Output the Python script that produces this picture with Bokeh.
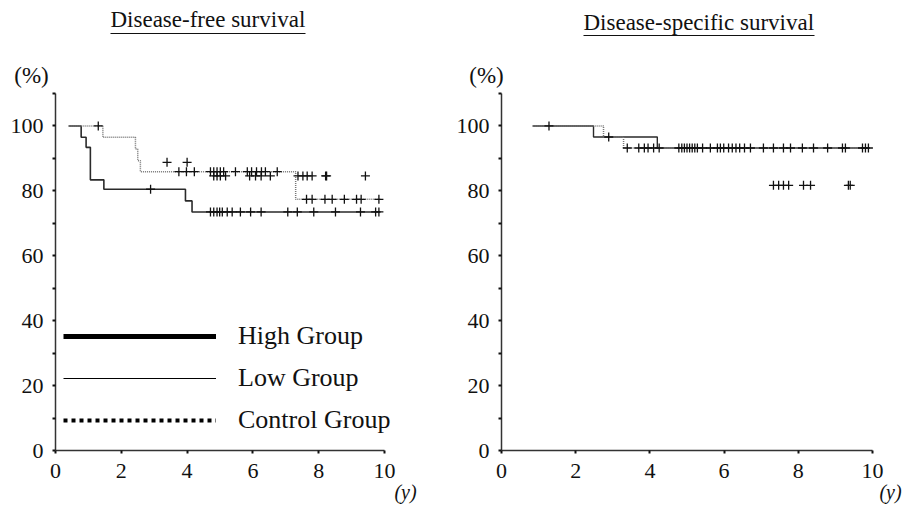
import numpy as np
from bokeh.plotting import figure
from bokeh.models import Range1d, FixedTicker, Label, Legend, LegendItem, Arrow
from bokeh.layouts import row
from bokeh.embed import file_html
from bokeh.resources import INLINE

FONT = "Liberation Serif"

# ---------------- Data: Disease-free survival (left) ----------------
dfs_low_t = [0.40, 0.78, 0.93, 1.06, 1.47, 3.95, 4.15, 9.88]
dfs_low_s = [100, 96.5, 93.4, 83.4, 80.5, 76.9, 73.5, 73.5]
dfs_low_cens = [2.89, 4.71, 4.81, 4.91, 4.99, 5.07, 5.22, 5.37, 5.62, 5.93,
                6.25, 7.06, 7.35, 7.85, 8.51, 9.27, 9.73, 9.83]

dfs_ctrl_t = [0.40, 1.44, 2.43, 2.50, 2.58, 7.30, 9.88]
dfs_ctrl_s = [100, 96.5, 92.9, 89.3, 85.9, 77.4, 77.4]
dfs_ctrl_cens = [1.30, 3.75, 3.98, 4.22, 4.71, 4.81, 4.91, 5.01, 5.11, 5.47,
                 5.83, 5.96, 6.11, 6.26, 6.38, 6.74, 7.63, 7.80, 8.19, 8.41,
                 8.78, 9.15, 9.29, 9.83]

dfs_high_cens_t = [3.39, 4.00, 4.81, 4.91, 5.01, 5.17, 5.90, 6.08, 6.25, 6.53,
                   7.37, 7.52, 7.65, 7.80, 8.21, 8.24, 9.42]
dfs_high_cens_s = [88.8, 88.8, 84.6, 84.6, 84.6, 84.6, 84.6, 84.6, 84.6, 84.6,
                   84.6, 84.6, 84.6, 84.6, 84.6, 84.6, 84.6]

# ---------------- Data: Disease-specific survival (right) ----------------
dss_a_t = [0.84, 2.48, 4.20, 9.90]
dss_a_s = [100, 96.6, 93.2, 93.2]
dss_a_cens = [1.28, 2.89, 4.25, 4.78, 4.86, 4.93, 5.00, 5.07, 5.14, 5.21, 5.28,
              5.42, 5.63, 5.82, 5.90, 5.99, 6.12, 6.22, 6.32, 6.42, 6.55, 6.71,
              7.06, 7.33, 7.60, 7.79, 8.11, 8.41, 8.79, 9.19, 9.27, 9.73, 9.81, 9.89]

dss_b_t = [0.84, 2.75, 3.29, 9.90]
dss_b_s = [100, 96.6, 93.2, 93.2]
dss_b_cens = [3.39, 3.70, 3.85, 3.95, 4.10]

dss_c_cens_t = [7.33, 7.47, 7.60, 7.74, 8.14, 8.33, 9.35, 9.40]
dss_c_cens_s = [81.7, 81.7, 81.7, 81.7, 81.7, 81.7, 81.7, 81.7]

x_ticks = [0, 2, 4, 6, 8, 10]
y_ticks = [0, 20, 40, 60, 80, 100]
y_minor = [10, 30, 50, 70, 90, 110]

legend_labels = ["High Group", "Low Group", "Control Group"]
titles = ["Disease-free survival", "Disease-specific survival"]
unit_y = "(%)"
unit_x = "(y)"

# ---------------- Layout constants (pixels) ----------------
H = 504            # canvas height
Y0 = 450           # pixel row of survival 0 %
KY = 357 / 110.0   # pixels per percent
X0 = 55            # pixel column of year 0 inside each canvas


def make_fig(width, kx):
    p = figure(frame_width=width, frame_height=H,
               x_range=Range1d(-X0 / kx, (width - X0) / kx),
               y_range=Range1d(-(H - Y0) / KY, Y0 / KY),
               output_backend="svg", toolbar_location=None, title=None,
               min_border=0)
    p.xgrid.visible = False
    p.ygrid.visible = False
    p.outline_line_color = None
    p.background_fill_color = "white"
    p.border_fill_color = "white"
    p.xaxis.ticker = FixedTicker(ticks=x_ticks, minor_ticks=[])
    p.yaxis.ticker = FixedTicker(ticks=y_ticks, minor_ticks=y_minor)
    p.xaxis.fixed_location = 0
    p.yaxis.fixed_location = 0
    p.xaxis.bounds = (0, 10)
    p.yaxis.bounds = (0, 110)
    for ax in (p.xaxis, p.yaxis):
        ax.axis_line_color = "#333333"
        ax.axis_line_width = 1.5
        ax.major_tick_in = 0
        ax.major_tick_out = 3
        ax.major_tick_line_width = 2
        ax.major_tick_line_color = "#111111"
        ax.minor_tick_in = 0
        ax.minor_tick_out = 3
        ax.minor_tick_line_width = 2
        ax.minor_tick_line_color = "#111111"
        ax.major_label_text_font = FONT
        ax.major_label_text_font_size = "22px"
        ax.major_label_text_color = "#111111"
    p.xaxis.major_label_standoff = 10
    p.yaxis.major_label_standoff = 9
    return p


def add_text(p, kx, px, py, text, size="23px", align="center", baseline="middle",
             style="normal"):
    p.add_layout(Label(x=(px - X0) / kx, y=(Y0 - py) / KY, text=text,
                       text_font=FONT, text_font_size=size, text_align=align,
                       text_baseline=baseline, text_font_style=style,
                       text_color="#111111"))


def add_rule(p, kx, px1, px2, py):
    p.add_layout(Arrow(end=None, x_start=(px1 - X0) / kx, x_end=(px2 - X0) / kx,
                       y_start=(Y0 - py) / KY, y_end=(Y0 - py) / KY,
                       line_color="#111111", line_width=1.2))


def step_value(t, s, c):
    t = np.asarray(t)
    s = np.asarray(s)
    idx = np.searchsorted(t, np.asarray(c), side="right") - 1
    return s[idx].tolist()


def censor(p, t, s):
    p.scatter(t, s, marker="cross", size=9, line_width=1.3, color="#111111")


# ---------------- Left figure ----------------
KX1 = 32.9
p1 = make_fig(446, KX1)
p1.step(dfs_low_t, dfs_low_s, mode="after", line_color="#2a2a2a", line_width=1.6)
p1.step(dfs_ctrl_t, dfs_ctrl_s, mode="after", line_color="#777777", line_width=1.5,
        line_dash="1 1")
censor(p1, dfs_low_cens, step_value(dfs_low_t, dfs_low_s, dfs_low_cens))
censor(p1, dfs_ctrl_cens, step_value(dfs_ctrl_t, dfs_ctrl_s, dfs_ctrl_cens))
censor(p1, dfs_high_cens_t, dfs_high_cens_s)

nan = [np.nan]
r_high = p1.line(nan, nan, line_color="black", line_width=5)
r_low = p1.line(nan, nan, line_color="black", line_width=1)
r_ctrl = p1.line(nan, nan, line_color="black", line_width=4, line_dash="4 4")
legend = Legend(items=[LegendItem(label=legend_labels[0], renderers=[r_high]),
                       LegendItem(label=legend_labels[1], renderers=[r_low]),
                       LegendItem(label=legend_labels[2], renderers=[r_ctrl])],
                location=(63, H - 441), glyph_width=153, glyph_height=42,
                label_height=42, label_standoff=22, spacing=0, padding=0, margin=0,
                border_line_color=None, background_fill_alpha=0,
                label_text_font=FONT, label_text_font_size="26px",
                label_text_color="#111111")
p1.add_layout(legend)

add_text(p1, KX1, 110, 19, titles[0], align="left")
add_rule(p1, KX1, 110, 305, 33)
add_text(p1, KX1, 31, 75, unit_y)
add_text(p1, KX1, 405, 491, unit_x, size="20px", style="italic")

# ---------------- Right figure ----------------
KX2 = 37.1
p2 = make_fig(457, KX2)
p2.yaxis.major_label_text_baseline = "bottom"
p2.step(dss_a_t, dss_a_s, mode="after", line_color="#2a2a2a", line_width=1.4)
p2.step(dss_b_t, dss_b_s, mode="after", line_color="#777777", line_width=1.5,
        line_dash="1 1")
censor(p2, dss_a_cens, step_value(dss_a_t, dss_a_s, dss_a_cens))
censor(p2, dss_b_cens, step_value(dss_b_t, dss_b_s, dss_b_cens))
censor(p2, dss_c_cens_t, dss_c_cens_s)

add_text(p2, KX2, 137, 22, titles[1], align="left")
add_rule(p2, KX2, 137, 368, 35)
add_text(p2, KX2, 40, 75, unit_y)
add_text(p2, KX2, 444, 491, unit_x, size="20px", style="italic")

layout = row(p1, p2)
open("out.html", "w").write(file_html(layout, INLINE))
